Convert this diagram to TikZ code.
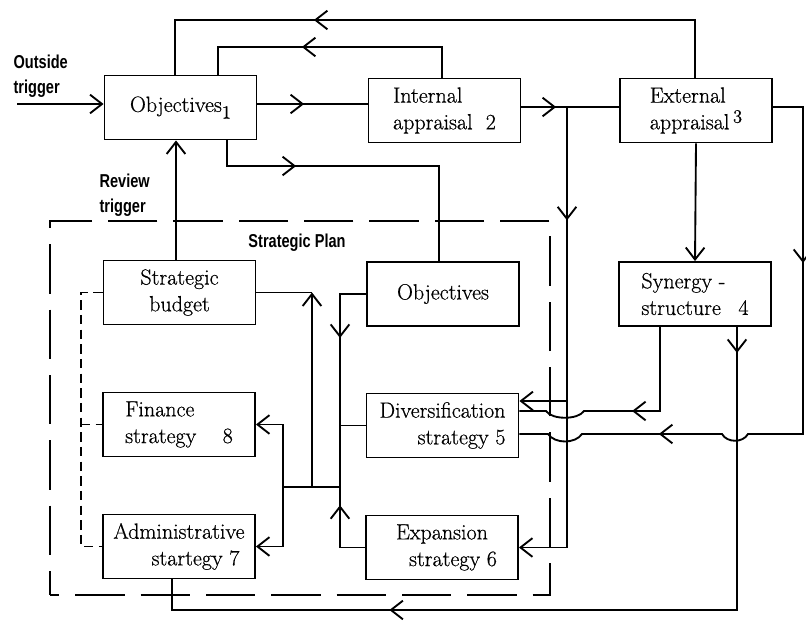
\documentclass[tikz,border=0pt]{standalone}
\usepackage{fontspec}
\usetikzlibrary{arrows.meta,decorations.markings}
\newfontfamily\lblfont{Liberation Sans}[FakeStretch=0.78]
\newfontfamily\boxfont{Latin Modern Roman}[FakeBold=0.6]
\newcommand{\numsz}{\fontsize{14}{14}\selectfont}
\begin{document}
\begin{tikzpicture}[x=0.75pt,y=-0.75pt,
  >={Straight Barb[length=9pt,width=14pt]},
  conn/.style={line width=1.4pt},
  box/.style={draw,line width=1.4pt,minimum width=114pt,minimum height=48pt,
    inner sep=2pt,align=center,font=\boxfont\fontsize{16.5}{20}\selectfont},
  lbl/.style={font=\lblfont\bfseries\fontsize{14}{19}\selectfont,inner sep=1pt},
  midtip/.style={postaction={decorate,decoration={markings,
    mark=at position #1 with {\arrow{Straight Barb[length=9pt,width=14pt]}}}}},
  planbox/.style={draw,line width=1.4pt,dash pattern=on 37pt off 12pt,dash phase=30pt,
    minimum width=375pt,minimum height=280.5pt,inner sep=0pt},
  smalldash/.style={line width=1.4pt,dash pattern=on 7pt off 4pt}]
\useasboundingbox (0,0) rectangle (806,621);

% boxes
\node[box] (obj1) at (180.5,107.5) {Objectives\raisebox{-5pt}{\numsz 1}};
\node[box,align=left] (intap) at (444.5,110.5) {Internal\\appraisal\hspace{0.6em}2};
\node[box,align=left] (extap) at (696,110.5) {External\\appraisal\,\raisebox{5pt}{\numsz 3}};
\node[box] (sbud) at (179.5,292.5) {Strategic\\budget};
\node[box] (obj2) at (443,294) {Objectives};
\node[box,align=left] (syn) at (695,294) {Synergy -\\structure\hspace{0.8em}4};
\node[box,align=left] (fin) at (179,424.5) {Finance\\strategy\hspace{1.2em}8};
\node[box,align=right] (div) at (442.5,425.5) {Diversification\\strategy 5\hspace{0.3em}};
\node[box] (adm) at (179,546.5) {Administrative\\\hspace{1.5em}startegy 7};
\node[box] (exp) at (442,547.5) {Expansion\\\hspace{1em}strategy 6};

% strategic plan frame and labels
\node[planbox] (plan) at (300,408) {};
\node[lbl] (plantitle) at (297,243) {Strategic Plan};
\node[lbl,align=left,anchor=west] (outside) at (12,76) {Outside\\trigger};
\node[lbl,align=left,anchor=west] (review) at (98,195) {Review\\trigger};

% helper coordinates
\coordinate (ot) at (17,104);
\coordinate (r104) at (0,104);
\coordinate (r107) at (0,107);
\coordinate (r401) at (0,401);
\coordinate (a1) at (442,47);  \coordinate (a2) at (218,47);
\coordinate (b1) at (695,20);  \coordinate (b2) at (175,20);
\coordinate (c1) at (227,166); \coordinate (c2) at (439,166);
\coordinate (j1) at (567,107);
\coordinate (d1) at (803,107); \coordinate (d2) at (803,434);
\coordinate (e1) at (660,411);
\coordinate (f1) at (737,610); \coordinate (f2) at (172,610);
\coordinate (jm) at (340,487); \coordinate (jl) at (283,487);
\coordinate (jb) at (312,487); \coordinate (jt) at (312,292.5);
\coordinate (rt) at (176,0);
\coordinate (dl) at (81,0);

% top row flows
\draw[conn,->] (ot) -- (ot -| obj1.west);
\draw[conn,midtip=35pt] (obj1.east |- r104) -- (intap.west |- r104);
\draw[conn,midtip=26pt] (intap.east |- r107) -- (extap.west |- r107);
\draw[conn,midtip=128pt] (intap.north -| a1) -- (a1) -- (a2) -- (obj1.north -| a2);
\draw[conn,midtip=329pt] (extap.north -| b1) -- (b1) -- (b2) -- (obj1.north -| b2);
\draw[conn,midtip=71pt] (obj1.south -| c1) -- (c1) -- (c2) -- (obj2.north -| c2);

% appraisal feed into the strategies
\draw[conn,->,midtip=85pt] (j1) |- (exp.east);
\draw[conn,->] (j1 |- r401) -- (div.east |- r401);
\draw[conn,midtip=139.5pt,midtip=-108pt] (extap.east |- r107) -- (d1) -- (d2)
  -- (748,434) .. controls (743,443) and (727,443) .. (722,434)
  -- (582,434) .. controls (575,444) and (555,444) .. (548,434)
  -- (div.east |- d2);
\draw[conn,->] (extap.south) -- (syn.north);
\draw[conn,midtip=84pt] (syn.south -| e1) -- (e1)
  -- (584,411) .. controls (578,420) and (552,420) .. (546,411)
  -- (div.east |- e1);
\draw[conn,midtip=19.5pt,midtip=473pt] (syn.south -| f1) -- (f1) -- (f2) -- (adm.south -| f2);

% inner plan links
\draw[conn,midtip=52.5pt] (obj2.west) -| (jm);
\draw[conn,midtip=50.5pt] (exp.west) -| (jm);
\draw[conn] (div.west) -- (div.west -| jm);
\draw[conn] (jm) -- (jl);
\draw[conn,->] (jl) |- (fin.east);
\draw[conn,->] (jl) |- (adm.east);
\draw[conn] (sbud.east) -- (jt);
\draw[conn,->] (jb) -- (jt);
\draw[conn,->] (sbud.north -| rt) -- (obj1.south -| rt);

% dashed link on the left
\draw[smalldash] (sbud.west) -- (sbud.west -| dl) -- (adm.west -| dl) -- (adm.west);
\draw[smalldash] (fin.west -| dl) -- (fin.west);
\end{tikzpicture}
\end{document}
